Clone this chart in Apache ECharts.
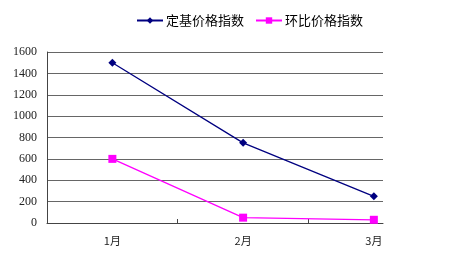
<!DOCTYPE html>
<html><head><meta charset="utf-8">
<script src="https://cdn.jsdelivr.net/npm/echarts@6/dist/echarts.min.js"></script>
<style>html,body{margin:0;padding:0;background:#fff}#c{width:455px;height:266px}</style>
</head><body><div id="c"></div>
<script>
const categories = ['1月', '2月', '3月'];
const fixedBaseIndex = [1500, 750, 250];
const chainIndex = [600, 50, 30];
const seriesNames = ['定基价格指数', '环比价格指数'];
const yTicks = [0, 200, 400, 600, 800, 1000, 1200, 1400, 1600];

const font = 'Liberation Serif, Noto Sans CJK SC, serif';
const chart = echarts.init(document.getElementById('c'), null, {renderer: 'canvas'});
const toPts = arr => arr.map((v, i) => [i + 1, v]);
chart.setOption({
  animation: false,
  backgroundColor: '#fff',
  grid: {left: 47, right: 72, top: 52, bottom: 43},
  legend: {
    left: 131, top: 9, itemWidth: 26, itemHeight: 8, itemGap: 11,
    textStyle: {fontFamily: 'Noto Sans CJK SC', fontSize: 13, color: '#000', padding: [0, 0, 0, -2]},
    data: seriesNames
  },
  xAxis: {
    type: 'value', min: 0.5, max: 3.07,
    axisLine: {show: true, lineStyle: {color: '#444', width: 1}},
    axisTick: {show: true, customValues: [1.5, 2.5], length: 4, inside: true, lineStyle: {color: '#444'}},
    axisLabel: {customValues: [1, 2, 3], formatter: v => categories[Math.round(v) - 1],
      fontFamily: 'Noto Sans CJK SC', fontSize: 11, color: '#222', margin: 12},
    splitLine: {show: false}
  },
  yAxis: {
    type: 'value', min: yTicks[0], max: yTicks[yTicks.length - 1], interval: 200,
    axisLine: {show: true, lineStyle: {color: '#444'}},
    axisTick: {show: false},
    axisLabel: {fontFamily: font, fontSize: 12, color: '#222', margin: 10, formatter: v => String(v)},
    splitLine: {show: true, lineStyle: {color: '#666', width: 1}}
  },
  series: [
    {name: seriesNames[0], type: 'line', data: toPts(fixedBaseIndex), symbol: 'diamond', symbolSize: 8,
      itemStyle: {color: '#000080'}, lineStyle: {color: '#000080', width: 1.3}},
    {name: seriesNames[1], type: 'line', data: toPts(chainIndex), symbol: 'rect', symbolSize: 8,
      itemStyle: {color: '#ff00ff'}, lineStyle: {color: '#ff00ff', width: 1.3}}
  ]
});
</script></body></html>
